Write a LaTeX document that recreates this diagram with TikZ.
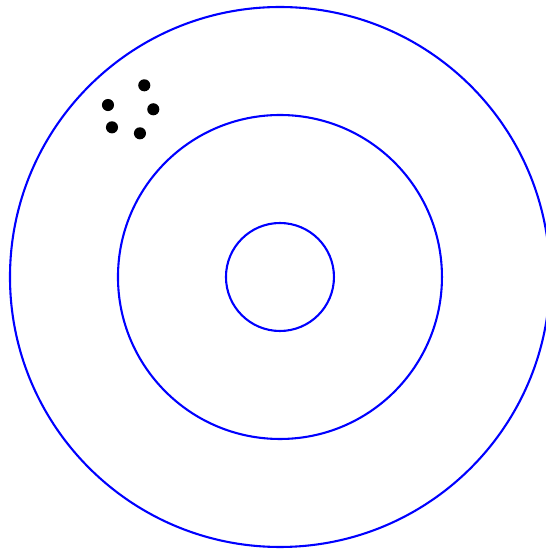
\documentclass[tikz,border=0pt]{standalone}
\usepackage{tikz}
\usetikzlibrary{arrows.meta}
\tikzset{
  every picture/.style={line join=round, line cap=round, >=Stealth},
  ring/.style={draw=blue, line width=1.1pt},
  pebble/.style={fill=black},
}

\begin{document}
\begin{tikzpicture}
\useasboundingbox (-5.185,-5.130) rectangle (4.926,5.130);
\foreach \r in {1,3,5}
  \draw[ring] (0,0) circle (\r);
\foreach \x/\y in {-2.513/3.550, -3.185/3.185, -2.346/3.106, -3.111/2.772, -2.593/2.661}
  \fill[pebble] (\x,\y) circle (0.112);
\end{tikzpicture}
\end{document}
